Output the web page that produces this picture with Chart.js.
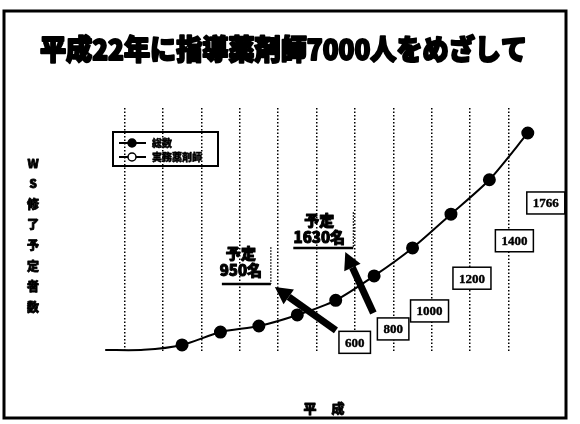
<!DOCTYPE html>
<html>
<head>
<meta charset="utf-8">
<script src="https://cdn.jsdelivr.net/npm/chart.js@4"></script>
<style>
  body { margin: 0; background: #fff; }
  canvas { display: block; }
</style>
</head>
<body>
<canvas id="wsChart" width="580" height="424"></canvas>
<script>
// 平成の年度 (軸ラベルは非表示)
const years = ['11', '12', '13', '14', '15', '16', '17', '18', '19', '20', '21', '22'];
// 総数
const totalCount = [254, 255, 289, 379, 421, 498, 600, 770, 965, 1200, 1440, 1766];
// 実務薬剤師 (図中に点なし)
const pharmacists = [];
// 点の下の数値ボックス (後半6年分)
const boxLabels = ['600', '800', '1000', '1200', '1400', '1766'];
const planNotes = [['予定', '950名'], ['予定', '1630名']];

const titleText = '平成22年に指導薬剤師7000人をめざして';
const yTitle = ['W', 'S', '修', '了', '予', '定', '者', '数'];
const xTitle = ['平', '成'];

const JP = "'Noto Sans CJK JP', 'Noto Sans', sans-serif";

function fitText(ctx, text, x, y, width, heavy) {
    const w = ctx.measureText(text).width;
    ctx.save();
    ctx.translate(x, y);
    ctx.scale(width / w, 1);
    ctx.lineWidth = heavy;
    ctx.lineJoin = 'round';
    ctx.strokeText(text, 0, 0);
    ctx.fillText(text, 0, 0);
    ctx.restore();
}

function heavyText(ctx, text, x, y, lw) {
    ctx.save();
    ctx.lineWidth = lw;
    ctx.lineJoin = 'round';
    ctx.strokeText(text, x, y);
    ctx.fillText(text, x, y);
    ctx.restore();
}

function arrow(ctx, x1, y1, x2, y2) {
    const a = Math.atan2(y2 - y1, x2 - x1);
    const head = 17, half = 9;
    const bx = x2 - head * Math.cos(a), by = y2 - head * Math.sin(a);
    ctx.strokeStyle = '#000';
    ctx.lineWidth = 7;
    ctx.lineCap = 'butt';
    ctx.beginPath();
    ctx.moveTo(x1, y1);
    ctx.lineTo(bx, by);
    ctx.stroke();
    ctx.beginPath();
    ctx.moveTo(x2, y2);
    ctx.lineTo(bx + half * Math.sin(a), by - half * Math.cos(a));
    ctx.lineTo(bx - half * Math.sin(a), by + half * Math.cos(a));
    ctx.closePath();
    ctx.fill();
}

function note(ctx, lines, cx, top, lineRight, lineBottom, lineLeft, lineTop) {
    ctx.fillStyle = '#000';
    ctx.strokeStyle = '#000';
    ctx.textAlign = 'center';
    ctx.textBaseline = 'middle';
    ctx.font = '900 15px ' + JP;
    heavyText(ctx, lines[0], cx, top, 1);
    heavyText(ctx, lines[1], cx, top + 17, 1);
    // 下線と縦の点線
    ctx.lineWidth = 2.5;
    ctx.beginPath();
    ctx.moveTo(lineLeft, lineBottom);
    ctx.lineTo(lineRight, lineBottom);
    ctx.stroke();
    ctx.lineWidth = 1;
    ctx.setLineDash([2, 1]);
    ctx.beginPath();
    ctx.moveTo(lineRight, lineTop);
    ctx.lineTo(lineRight, lineBottom);
    ctx.stroke();
    ctx.setLineDash([]);
}

const decorations = {
    id: 'decorations',
    beforeDraw(chart) {
        const ctx = chart.ctx;
        ctx.save();
        ctx.fillStyle = '#fff';
        ctx.fillRect(0, 0, chart.width, chart.height);
        ctx.restore();
    },
    afterDraw(chart) {
        const ctx = chart.ctx;
        const xs = chart.scales.x, ys = chart.scales.y;
        ctx.save();

        // 外枠
        ctx.strokeStyle = '#000';
        ctx.lineWidth = 3;
        ctx.strokeRect(4, 11, 562, 407);

        // タイトル
        ctx.fillStyle = '#000';
        ctx.textAlign = 'left';
        ctx.textBaseline = 'middle';
        ctx.font = '900 28px ' + JP;
        fitText(ctx, titleText, 40, 49, 487, 2);

        // 縦軸タイトル
        ctx.font = '900 12px ' + JP;
        ctx.textAlign = 'center';
        yTitle.forEach((c, i) => heavyText(ctx, c, 33, 163 + i * 20.6, 0.8));

        // 横軸タイトル
        ctx.font = '900 13px ' + JP;
        xTitle.forEach((c, i) => heavyText(ctx, c, 310 + i * 28, 408, 0.8));

        // 凡例
        ctx.lineWidth = 2;
        ctx.strokeRect(113, 132, 105, 34);
        chart.data.datasets.forEach((ds, i) => {
            const y = 143 + i * 14;
            ctx.lineWidth = 2;
            ctx.beginPath();
            ctx.moveTo(119, y);
            ctx.lineTo(146, y);
            ctx.stroke();
            ctx.beginPath();
            ctx.arc(132, y, 4, 0, Math.PI * 2);
            ctx.fillStyle = ds.pointBackgroundColor;
            ctx.fill();
            ctx.lineWidth = 1.5;
            ctx.stroke();
            ctx.fillStyle = '#000';
            ctx.font = '900 10px ' + JP;
            ctx.textAlign = 'left';
            heavyText(ctx, ds.label, 152, y + 0.5, 0.5);
        });

        // 数値ボックス
        const first = totalCount.length - boxLabels.length;
        const dx = [19, 19, 17, 21, 25, 18];
        const dy = [42, 53, 63, 64, 61, 70];
        const boxes = [];
        ctx.font = 'bold 13px "Liberation Serif", serif';
        ctx.textAlign = 'center';
        boxLabels.forEach((t, i) => {
            const idx = first + i;
            const cx = xs.getPixelForValue(idx) + dx[i];
            const cy = ys.getPixelForValue(totalCount[idx]) + dy[i];
            const w = Math.max(27, ctx.measureText(t).width + 12);
            const h = 22;
            ctx.fillStyle = '#fff';
            ctx.fillRect(cx - w / 2, cy - h / 2, w, h);
            ctx.lineWidth = 1.5;
            ctx.strokeRect(cx - w / 2, cy - h / 2, w, h);
            ctx.fillStyle = '#000';
            heavyText(ctx, t, cx, cy + 1, 0.4);
            boxes.push({ x: cx - w / 2, y: cy - h / 2 });
        });

        // 予定の注記
        const x4 = xs.getPixelForValue(4), x5 = xs.getPixelForValue(5);
        note(ctx, planNotes[0], x4 - 18, 253, x4 + 12, 284, x4 - 37, 247);
        note(ctx, planNotes[1], x5 + 22, 220, x5 + 56, 248, x5 - 4, 212);

        // 矢印
        ctx.fillStyle = '#000';
        arrow(ctx, boxes[0].x - 3, boxes[0].y - 1, x4 + 16, 287);
        arrow(ctx, boxes[1].x - 4, boxes[1].y - 5, x5 + 48, 252);

        ctx.restore();
    }
};

new Chart(document.getElementById('wsChart'), {
    type: 'line',
    data: {
        labels: years,
        datasets: [
            {
                label: '総数',
                data: totalCount,
                borderColor: '#000',
                borderWidth: 2,
                tension: 0.25,
                pointRadius: ctx => ctx.dataIndex < 2 ? 0 : 5.5,
                pointBackgroundColor: '#000',
                pointBorderColor: '#000'
            },
            {
                label: '実務薬剤師',
                data: pharmacists,
                borderColor: '#000',
                borderWidth: 2,
                pointRadius: 4,
                pointBackgroundColor: '#fff',
                pointBorderColor: '#000'
            }
        ]
    },
    options: {
        responsive: false,
        animation: false,
        layout: { padding: { left: 86, right: 33, top: 108, bottom: 72 } },
        plugins: { legend: { display: false }, tooltip: { enabled: false } },
        scales: {
            x: {
                offset: true,
                grid: {
                    offset: true,
                    drawTicks: false,
                    lineWidth: 1.5,
                    color: ctx => (ctx.type !== 'tick' || ctx.index === 0) ? 'rgba(0,0,0,0)' : '#000'
                },
                border: { display: false, dash: [1.5, 2] },
                ticks: { display: false }
            },
            y: { display: false, min: 240, max: 1940 }
        }
    },
    plugins: [decorations]
});
</script>
</body>
</html>
